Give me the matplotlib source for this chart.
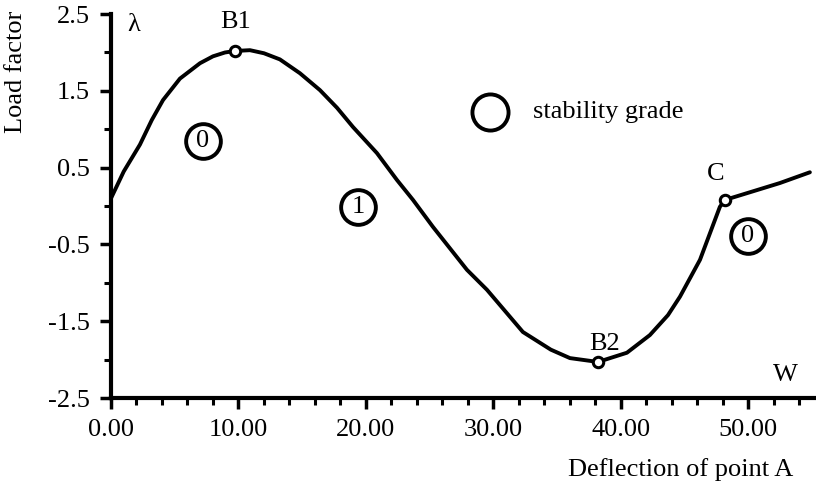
import numpy as np
import matplotlib.pyplot as plt
from matplotlib.ticker import MultipleLocator, FormatStrFormatter

plt.rcParams['font.family'] = ['Liberation Serif', 'DejaVu Serif']
plt.rcParams['axes.unicode_minus'] = False

# Curve: deflection W vs load factor lambda
deflection = [0.0, 1.0, 2.27, 3.2, 4.08, 5.41, 6.98, 8.0, 8.94, 9.73, 10.9, 12.0,
              13.25, 14.82, 16.39, 17.73, 18.98, 20.86, 22.43, 23.69, 25.25, 27.92,
              29.49, 32.31, 34.5, 36.0, 38.2, 40.47, 42.27, 43.69, 44.63, 46.2,
              47.76, 48.16, 50.12, 52.47, 54.82]
load = [0.1, 0.45, 0.8, 1.12, 1.38, 1.66, 1.86, 1.95, 2.0, 2.02, 2.03, 1.99,
        1.91, 1.73, 1.51, 1.28, 1.03, 0.69, 0.34, 0.08, -0.27, -0.83,
        -1.09, -1.64, -1.87, -1.98, -2.03, -1.91, -1.68, -1.42, -1.18, -0.70,
        -0.01, 0.08, 0.18, 0.30, 0.44]

# critical points
crit_names = ['B1', 'B2', 'C']
crit_x = [9.73, 38.2, 48.16]
crit_y = [2.02, -2.03, 0.08]
crit_label_x = [9.8, 38.7, 47.4]
crit_label_y = [2.40, -1.80, 0.42]

# stability grade circles
grade_text = ['0', '1', '0']
grade_x = [7.2, 19.4, 49.95]
grade_y = [0.85, -0.01, -0.39]

fs = 19

fig = plt.figure(figsize=(8.16, 4.86), dpi=100)
ax = fig.add_axes([0.136, 0.181, 0.864, 0.79])

ax.plot(deflection, load, color='black', lw=2.8, solid_capstyle='round',
        solid_joinstyle='round', zorder=2)
ax.plot(crit_x, crit_y, 'o', ms=7.5, mfc='white', mec='black', mew=2.2, zorder=3)
for name, lx, ly in zip(crit_names, crit_label_x, crit_label_y):
    ax.text(lx, ly, name, ha='center', va='center', fontsize=fs)

for t, gx, gy in zip(grade_text, grade_x, grade_y):
    ax.plot(gx, gy, 'o', ms=25, mfc='white', mec='black', mew=2.8, zorder=3)
    ax.text(gx, gy, t, ha='center', va='center', fontsize=fs, zorder=4)

# legend-like key
ax.plot(29.7, 1.22, 'o', ms=26, mfc='white', mec='black', mew=2.8)
ax.text(33.1, 1.22, 'stability grade', ha='left', va='center', fontsize=fs)

ax.text(1.75, 2.36, 'λ', ha='center', va='center', fontsize=fs)
ax.text(52.9, -2.2, 'W', ha='center', va='center', fontsize=fs)

ax.set_xlim(0, 55.3)
ax.set_ylim(-2.5, 2.5)
ax.spines['top'].set_visible(False)
ax.spines['right'].set_visible(False)
ax.spines['left'].set_linewidth(3)
ax.spines['bottom'].set_linewidth(3)

ax.xaxis.set_major_locator(MultipleLocator(10))
ax.xaxis.set_minor_locator(MultipleLocator(2))
ax.xaxis.set_major_formatter(FormatStrFormatter('%.2f'))
ax.set_yticks([-2.5, -1.5, -0.5, 0.5, 1.5, 2.5])
ax.set_yticks([-2.0, -1.0, 0.0, 1.0, 2.0], minor=True)
ax.yaxis.set_major_formatter(FormatStrFormatter('%.1f'))

ax.tick_params(axis='both', which='major', direction='out', length=8, width=2.5,
               labelsize=fs, pad=7)
ax.tick_params(axis='both', which='minor', direction='out', length=5, width=2.2)

fig.text(793 / 816, 1 - 476 / 486, 'Deflection of point A', ha='right',
         va='baseline', fontsize=fs)
fig.text(16 / 816, 1 - 72 / 486, 'Load factor', ha='center', va='center',
         rotation=90, fontsize=fs)

fig.savefig('out.png', dpi=100)
